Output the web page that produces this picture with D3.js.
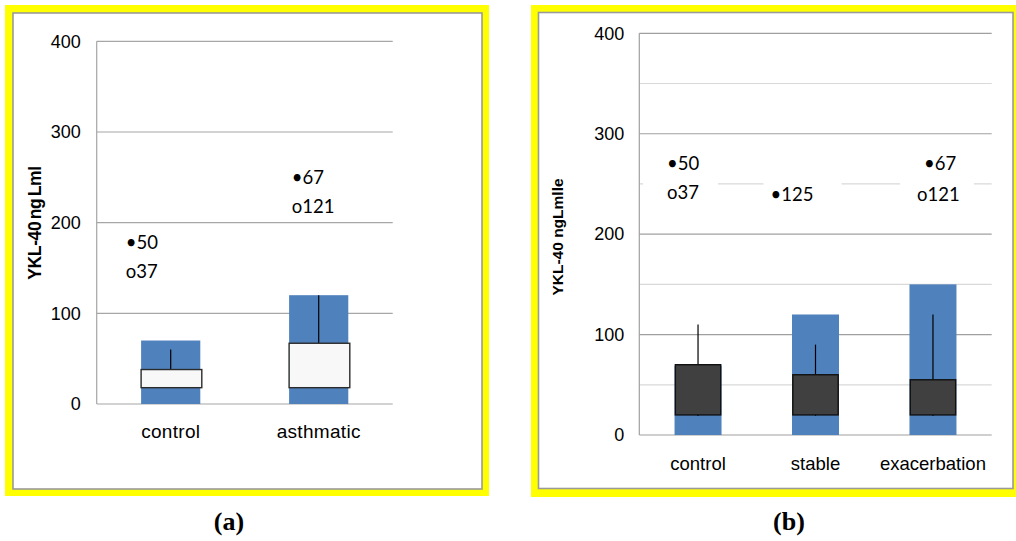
<!DOCTYPE html>
<html><head><meta charset="utf-8">
<script src="https://cdn.jsdelivr.net/npm/d3@7"></script>
<style>
html,body{margin:0;padding:0;background:#fff;}
svg{display:block;}
</style></head>
<body>
<svg id="chart" width="1016" height="541"></svg>
<script>
// ---------- DATA ----------
// Panel (a)
const catsA = ["control", "asthmatic"];
const barA = [70, 120];          // blue column height
const q1A = [18, 18];            // box bottom
const q3A = [38, 67];            // box top
const whiskerHighA = [60, 120];  // upper whisker end
const notesA = [
  { cat: "control",   text: "•50",  value: 178 },
  { cat: "control",   text: "o37",  value: 146 },
  { cat: "asthmatic", text: "•67",  value: 250 },
  { cat: "asthmatic", text: "o121", value: 218 }
];
const ticksA = [0, 100, 200, 300, 400];

// Panel (b)
const catsB = ["control", "stable", "exacerbation"];
const barB = [69, 120, 150];
const q1B = [20, 20, 20];
const q3B = [70, 60, 55];
const whiskerHighB = [110, 90, 120];
const whiskerLowB = [19, 19, 19];
const notesB = [
  { cat: "control",      text: "•50",  value: 270 },
  { cat: "control",      text: "o37",  value: 241 },
  { cat: "stable",       text: "•125", value: 239 },
  { cat: "exacerbation", text: "•67",  value: 270 },
  { cat: "exacerbation", text: "o121", value: 239 }
];
const ticksB = [0, 100, 200, 300, 400];
const minorTicksB = [50, 150, 250, 350];

// ---------- DRAW ----------
const svg = d3.select("#chart");
const BLUE = "#4f81bd";
const SANS = "'Liberation Sans', Arial, sans-serif";
const NOTE_FONT = "Lato, 'Open Sans', sans-serif";

function frame(x0, y0, x1, y1, ix0, iy0, ix1, iy1) {
  svg.append("rect").attr("x", x0).attr("y", y0).attr("width", x1 - x0).attr("height", y1 - y0).attr("fill", "#ffff00");
  svg.append("rect").attr("x", ix0).attr("y", iy0).attr("width", ix1 - ix0).attr("height", iy1 - iy0)
    .attr("fill", "#fff").attr("stroke", "#9a9a9a").attr("stroke-width", 1.6);
}

frame(5, 5, 489, 496, 13, 13, 482, 489);
frame(531, 5, 1016, 497, 538.5, 12.5, 1013, 488.5);

// ---- Panel (a)
(function () {
  const L = 96.7, R = 392.7, T = 41.3, B = 404;
  const x = d3.scaleBand().domain(catsA).range([L, R]).padding(0);
  const y = d3.scaleLinear().domain([0, 400]).range([B, T]);
  const g = svg.append("g");
  g.selectAll("line.grid").data(ticksA).join("line")
    .attr("x1", L).attr("x2", R).attr("y1", d => y(d)).attr("y2", d => y(d))
    .attr("stroke", "#a6a6a6").attr("stroke-width", 1.2);
  g.append("line").attr("x1", L).attr("x2", L).attr("y1", T).attr("y2", B).attr("stroke", "#a6a6a6").attr("stroke-width", 1.2);
  const ax = g.append("g").attr("transform", `translate(${L},0)`)
    .call(d3.axisLeft(y).tickValues(ticksA).tickSize(0).tickPadding(16).tickFormat(d3.format("d")));
  ax.select(".domain").remove();
  ax.selectAll("text").attr("font-family", SANS).attr("font-size", 18).attr("fill", "#000");
  const bx = g.append("g").attr("transform", `translate(0,${B})`)
    .call(d3.axisBottom(x).tickSize(0).tickPadding(21));
  bx.select(".domain").remove();
  bx.selectAll("text").attr("font-family", SANS).attr("font-size", 19).attr("fill", "#000").attr("letter-spacing", "0.3");
  const bw = x.bandwidth() * 0.4;
  const cx = d => x(d) + x.bandwidth() / 2;
  g.selectAll("rect.bar").data(catsA).join("rect")
    .attr("x", d => cx(d) - bw / 2).attr("width", bw)
    .attr("y", (d, i) => y(barA[i])).attr("height", (d, i) => y(0) - y(barA[i]))
    .attr("fill", BLUE);
  g.selectAll("line.wh").data(catsA).join("line")
    .attr("x1", cx).attr("x2", cx)
    .attr("y1", (d, i) => y(q3A[i])).attr("y2", (d, i) => y(whiskerHighA[i]))
    .attr("stroke", "#000").attr("stroke-width", 1.2);
  g.selectAll("rect.box").data(catsA).join("rect")
    .attr("x", d => cx(d) - bw / 2).attr("width", bw + 1.5)
    .attr("y", (d, i) => y(q3A[i])).attr("height", (d, i) => y(q1A[i]) - y(q3A[i]))
    .attr("fill", "#f8f8f8").attr("stroke", "#2b2b2b").attr("stroke-width", 1.4);
  const offA = { control: -45, asthmatic: -27 };
  g.selectAll("text.note").data(notesA).join("text")
    .attr("x", d => cx(d.cat) + offA[d.cat]).attr("y", d => y(d.value))
    .attr("dy", "0.35em").attr("font-family", NOTE_FONT).attr("font-size", 18.5).attr("fill", "#000")
    .text(d => d.text);
  g.append("text").attr("transform", `translate(41,${223}) rotate(-90)`)
    .attr("text-anchor", "middle").attr("font-family", SANS).attr("font-weight", "bold")
    .attr("font-size", 17.5).attr("letter-spacing", "-0.4").attr("word-spacing", "-2")
    .text("YKL-40 ng Lml");
})();

// ---- Panel (b)
(function () {
  const L = 639.3, R = 991.7, T = 33.3, B = 435;
  const x = d3.scaleBand().domain(catsB).range([L, R]).padding(0);
  const y = d3.scaleLinear().domain([0, 400]).range([B, T]);
  const g = svg.append("g");
  g.selectAll("line.minor").data(minorTicksB).join("line")
    .attr("x1", L).attr("x2", R).attr("y1", d => y(d)).attr("y2", d => y(d))
    .attr("stroke", "#d9d9d9").attr("stroke-width", 1.2);
  g.selectAll("line.grid").data(ticksB).join("line")
    .attr("x1", L).attr("x2", R).attr("y1", d => y(d)).attr("y2", d => y(d))
    .attr("stroke", "#a0a0a0").attr("stroke-width", 1.2);
  g.append("line").attr("x1", L).attr("x2", L).attr("y1", T).attr("y2", B).attr("stroke", "#a0a0a0").attr("stroke-width", 1.2);
  const ax = g.append("g").attr("transform", `translate(${L},0)`)
    .call(d3.axisLeft(y).tickValues(ticksB).tickSize(0).tickPadding(15).tickFormat(d3.format("d")));
  ax.select(".domain").remove();
  ax.selectAll("text").attr("font-family", SANS).attr("font-size", 18).attr("fill", "#000");
  const bx = g.append("g").attr("transform", `translate(0,${B})`)
    .call(d3.axisBottom(x).tickSize(0).tickPadding(22));
  bx.select(".domain").remove();
  bx.selectAll("text").attr("font-family", SANS).attr("font-size", 18.5).attr("fill", "#000");
  const bw = x.bandwidth() * 0.4;
  const cx = d => x(d) + x.bandwidth() / 2;
  const boxB = { control: [-55, 20], stable: [-52, 26], exacerbation: [-33, 41] };
  const groups = d3.groups(notesB, d => d.cat);
  g.selectAll("rect.tb").data(groups).join("rect")
    .attr("x", d => cx(d[0]) + boxB[d[0]][0]).attr("width", d => boxB[d[0]][1] - boxB[d[0]][0])
    .attr("y", d => y(d3.max(d[1], e => e.value)) - 14)
    .attr("height", d => y(d3.min(d[1], e => e.value)) - y(d3.max(d[1], e => e.value)) + 28)
    .attr("fill", "#fff");
  g.selectAll("rect.bar").data(catsB).join("rect")
    .attr("x", d => cx(d) - bw / 2).attr("width", bw)
    .attr("y", (d, i) => y(barB[i])).attr("height", (d, i) => y(0) - y(barB[i]))
    .attr("fill", BLUE);
  g.selectAll("line.wh").data(catsB).join("line")
    .attr("x1", cx).attr("x2", cx)
    .attr("y1", (d, i) => y(whiskerLowB[i])).attr("y2", (d, i) => y(whiskerHighB[i]))
    .attr("stroke", "#000").attr("stroke-width", 1.2);
  g.selectAll("rect.box").data(catsB).join("rect")
    .attr("x", d => cx(d) - bw / 2 + 0.8).attr("width", bw - 1.6)
    .attr("y", (d, i) => y(q3B[i])).attr("height", (d, i) => y(q1B[i]) - y(q3B[i]))
    .attr("fill", "#404040").attr("stroke", "#111").attr("stroke-width", 1.4);
  const offB = { control: -31, stable: -45, exacerbation: -12 };
  const offB2 = { "o121": -16, "•67": -9 };
  g.selectAll("text.note").data(notesB).join("text")
    .attr("x", d => cx(d.cat) + (offB2[d.text] !== undefined ? offB2[d.text] : offB[d.cat]))
    .attr("y", d => y(d.value))
    .attr("dy", "0.35em").attr("font-family", NOTE_FONT).attr("font-size", 18.5).attr("fill", "#000")
    .text(d => d.text);
  g.append("text").attr("transform", `translate(563,${237}) rotate(-90)`)
    .attr("text-anchor", "middle").attr("font-family", SANS).attr("font-weight", "bold")
    .attr("font-size", 15.5).text("YKL-40 ngLmlle");
})();

// captions
svg.append("text").attr("x", 229).attr("y", 530).attr("text-anchor", "middle")
  .attr("font-family", "'Liberation Serif', 'Times New Roman', serif").attr("font-weight", "bold")
  .attr("font-size", 26).text("(a)");
svg.append("text").attr("x", 789).attr("y", 530).attr("text-anchor", "middle")
  .attr("font-family", "'Liberation Serif', 'Times New Roman', serif").attr("font-weight", "bold")
  .attr("font-size", 26).text("(b)");
</script>
</body></html>
